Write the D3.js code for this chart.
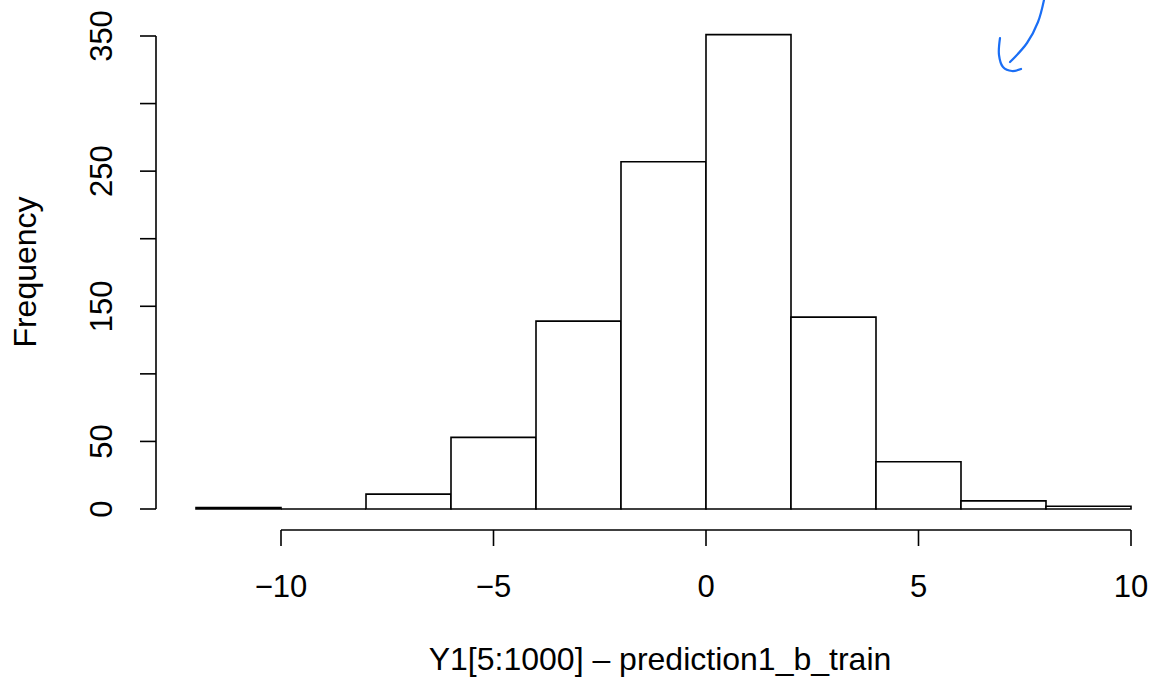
<!DOCTYPE html>
<html><head><meta charset="utf-8">
<script src="https://cdn.jsdelivr.net/npm/d3@7"></script>
<style>body{margin:0;background:#fff}svg text{font-family:"Liberation Sans",Arial,sans-serif;fill:#000}</style>
</head><body>
<svg id="c" width="1152" height="681"></svg>
<script>
const binStarts = [-12,-10,-8,-6,-4,-2,0,2,4,6,8];
const binWidth = 2;
const counts = [1,0,11,53,139,257,351,142,35,6,2];
const xTicks = [-10,-5,0,5,10];
const yTicks = [0,50,100,150,200,250,300,350];
const yLabels = [0,50,150,250,350];
const xTitle = "Y1[5:1000] \u2013 prediction1_b_train";
const yTitle = "Frequency";

const svg = d3.select("#c");
const x = d3.scaleLinear().domain([-10,10]).range([281,1131]);
const y = d3.scaleLinear().domain([0,350]).range([509,36]);

svg.append("g").selectAll("path").data(binStarts).join("path")
  .attr("d", (d,i)=>{
    const x0=x(d), x1=x(d+binWidth), y0=y(0), y1=y(counts[i]);
    return `M${x0},${y0}L${x0},${y1}L${x1},${y1}L${x1},${y0}Z`;
  })
  .attr("fill","#fff").attr("stroke","#000").attr("stroke-width",1.6);

// x axis
const gx = svg.append("g").attr("transform","translate(0,530)");
gx.append("line").attr("x1",x(-10)).attr("x2",x(10)).attr("stroke","#000").attr("stroke-width",1.6);
gx.selectAll(".t").data(xTicks).join("line").attr("x1",x).attr("x2",x).attr("y1",0).attr("y2",16).attr("stroke","#000").attr("stroke-width",1.6);
gx.selectAll("text").data(xTicks).join("text").attr("x",x).attr("y",67).attr("text-anchor","middle").attr("font-size",31)
  .text(d=> d<0 ? "\u2212"+Math.abs(d) : d);

// y axis
const gy = svg.append("g").attr("transform","translate(156,0)");
gy.append("line").attr("y1",y(0)).attr("y2",y(350)).attr("stroke","#000").attr("stroke-width",1.6);
gy.selectAll(".t").data(yTicks).join("line").attr("y1",y).attr("y2",y).attr("x1",0).attr("x2",-16).attr("stroke","#000").attr("stroke-width",1.6);
gy.selectAll("text").data(yLabels).join("text")
  .attr("transform",d=>`translate(-44,${y(d)}) rotate(-90)`).attr("text-anchor","middle").attr("font-size",31).text(d=>d);

svg.append("text").attr("x",660).attr("y",670).attr("text-anchor","middle").attr("font-size",32).text(xTitle);
svg.append("text").attr("transform","translate(36,272) rotate(-90)").attr("text-anchor","middle").attr("font-size",32).text(yTitle);

// handwritten blue arrow annotation
const line = d3.line().curve(d3.curveCatmullRom);
svg.append("path").attr("d", line([[1044,0],[1038,22],[1027,43],[1010,62]]))
  .attr("fill","none").attr("stroke","#1a6ef5").attr("stroke-width",2.2).attr("stroke-linecap","round");
svg.append("path").attr("d", line([[1000,38],[999,55],[1003,67],[1012,71],[1021,69]]))
  .attr("fill","none").attr("stroke","#1a6ef5").attr("stroke-width",2.2).attr("stroke-linecap","round");
</script>
</body></html>
